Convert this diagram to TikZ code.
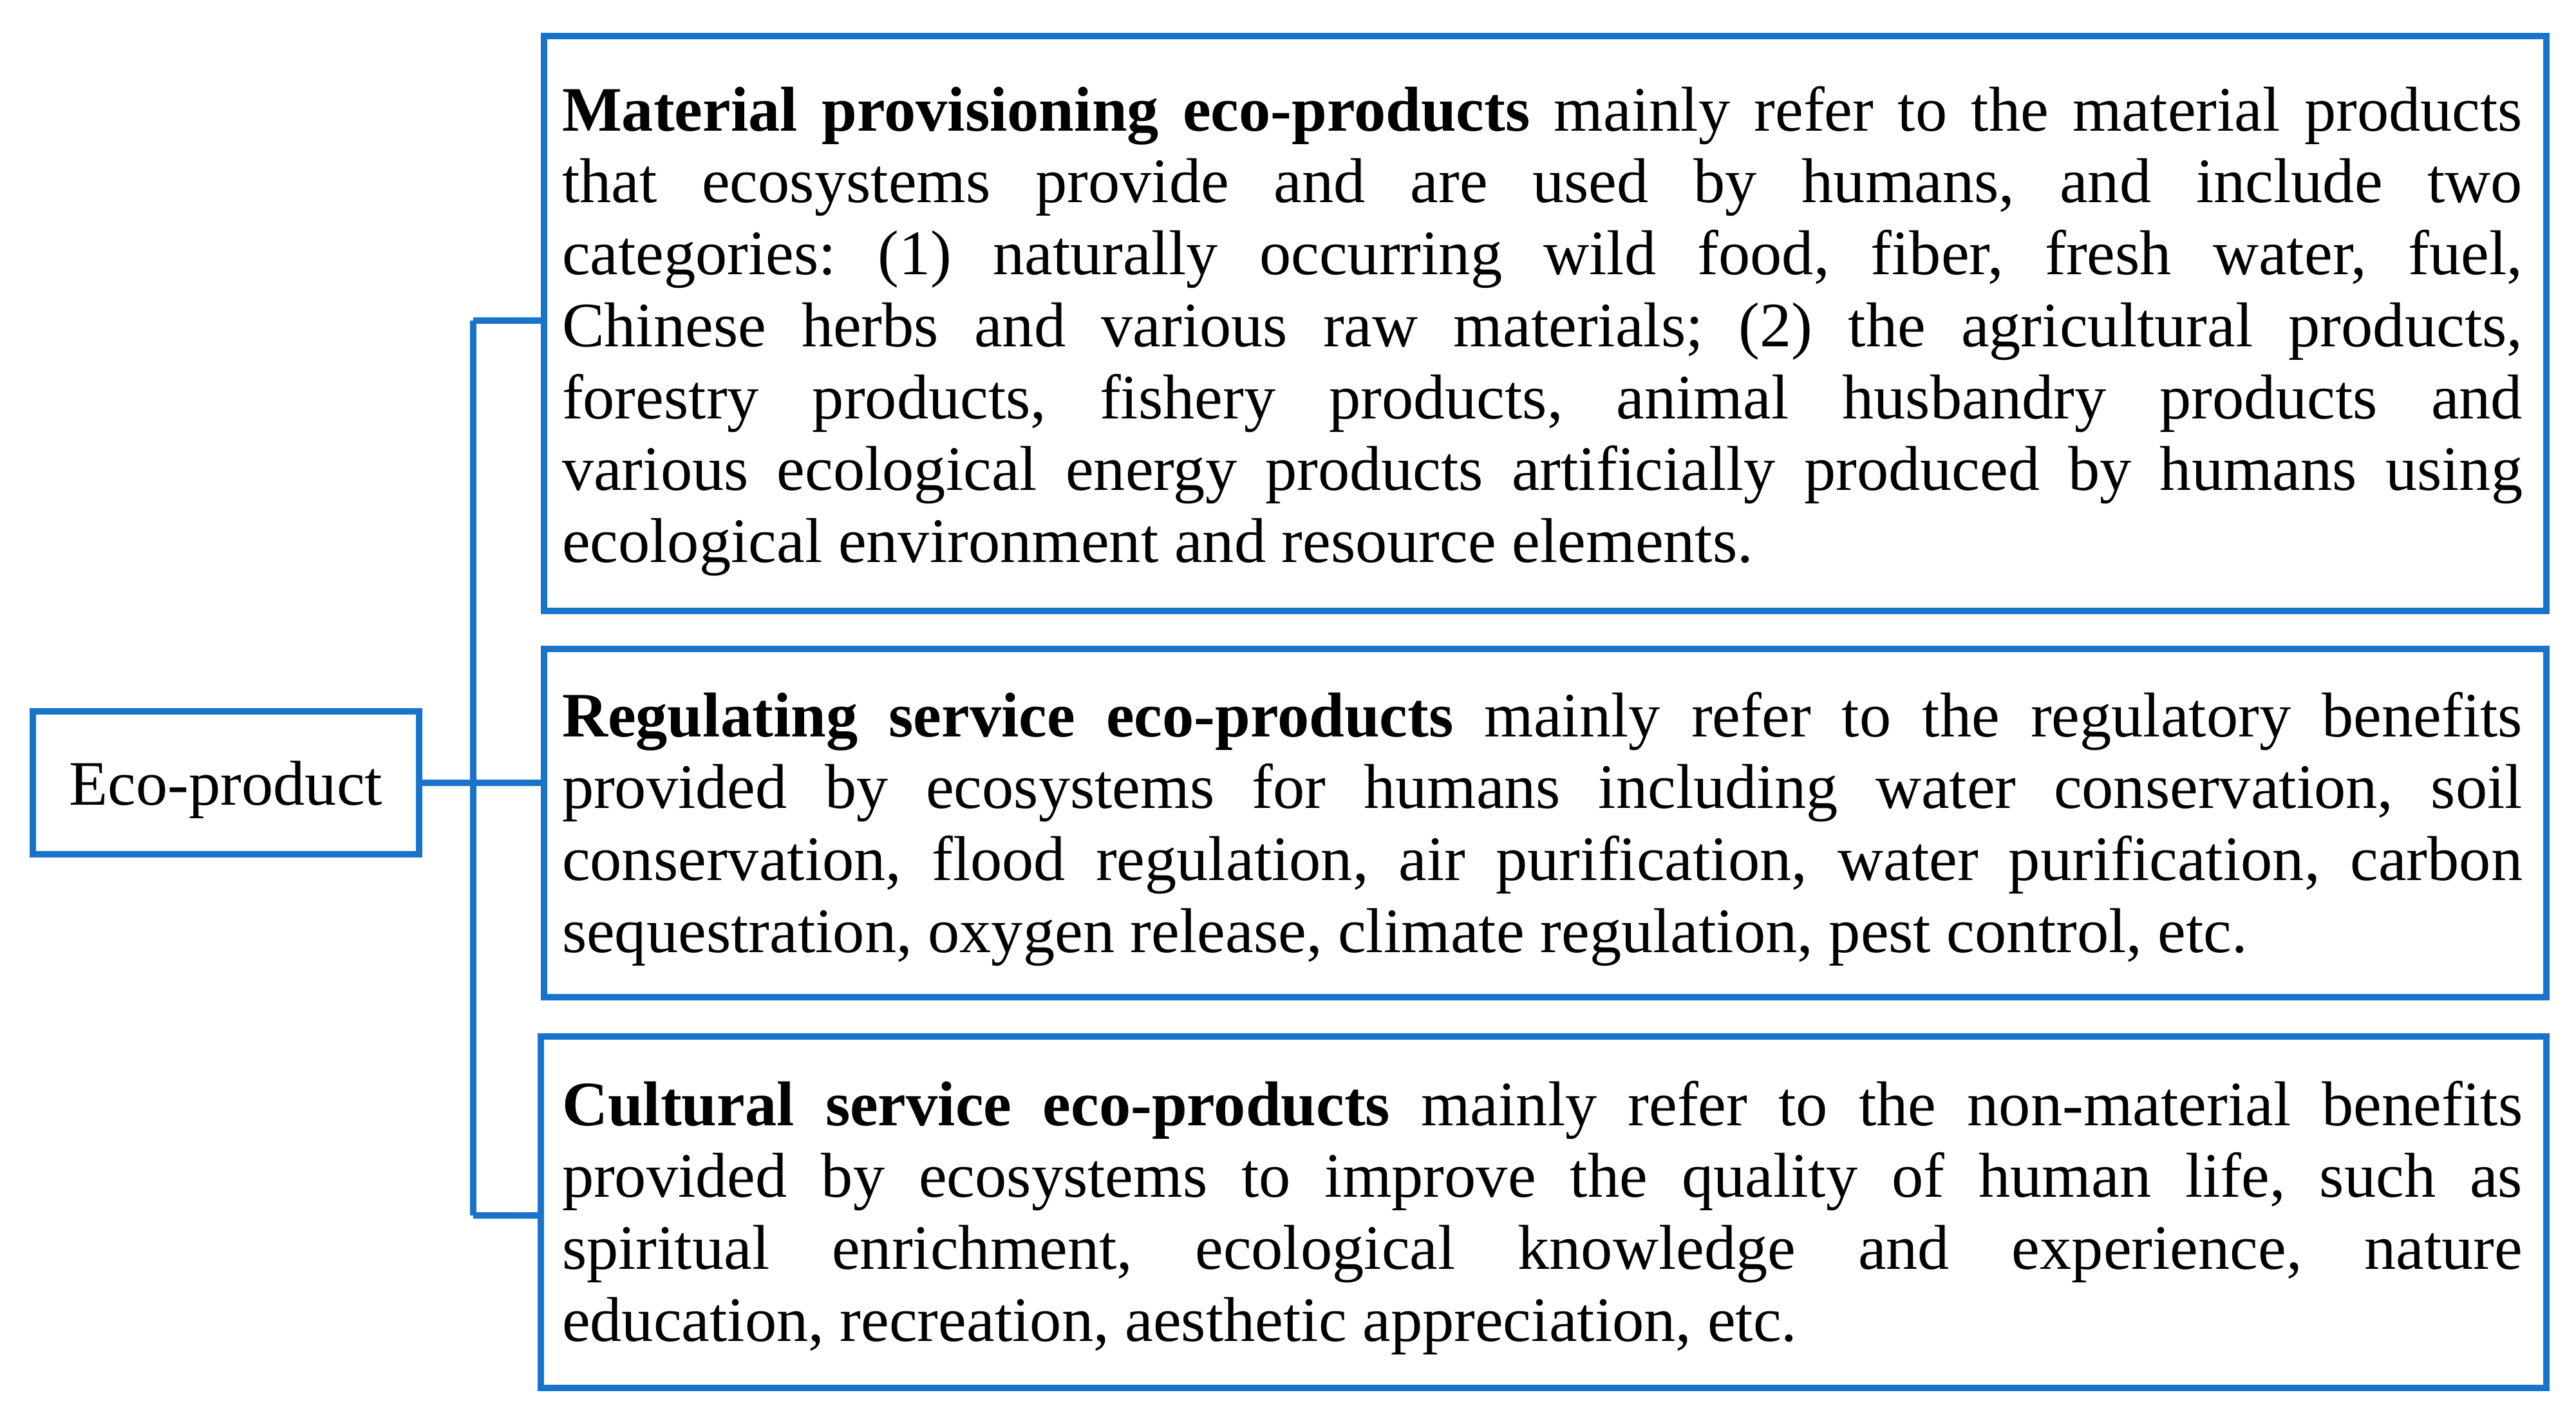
\documentclass[tikz,border=0pt]{standalone}
\usepackage{fontspec}
\setmainfont{Liberation Serif}
\frenchspacing
\definecolor{mdpiblue}{RGB}{24,116,202}
\tikzset{
  frame/.style={draw=mdpiblue, line width=0.1cm, outer sep=0pt, inner sep=0pt, anchor=north west},
  conn/.style={draw=mdpiblue, line width=0.1cm},
  para/.style={anchor=base west, inner sep=0pt, outer sep=0pt, text width=30.45cm, align=justify,
    font=\fontsize{28}{31.8}\selectfont},
}
\begin{document}
\begin{tikzpicture}
\useasboundingbox (0,0) rectangle (40.01,-22.11);
% boxes
\node[frame, minimum width=6.00cm, minimum height=2.22cm] (eco) at (0.51,-11.05) {};
\node[frame, minimum width=31.10cm, minimum height=8.93cm] (b1) at (8.45,-0.56) {};
\node[frame, minimum width=31.10cm, minimum height=5.41cm] (b2) at (8.45,-10.08) {};
\node[frame, minimum width=31.15cm, minimum height=5.46cm] (b3) at (8.40,-16.10) {};
% texts
\node[anchor=base, inner sep=0pt, font=\fontsize{28}{31.8}\selectfont] (ecot) at (eco.center |- 0,-12.50) {Eco-product};
\node[para] (t1) at (8.73,-2.03) {\textbf{Material provisioning eco-products} mainly refer to the material products\linebreak
that ecosystems provide and are used by humans, and include two\linebreak
categories: (1) naturally occurring wild food, fiber, fresh water, fuel,\linebreak
Chinese herbs and various raw materials; (2) the agricultural products,\linebreak
forestry products, fishery products, animal husbandry products and\linebreak
various ecological energy products artificially produced by humans using\linebreak
ecological environment and resource elements.};
\node[para] (t2) at (8.73,-11.44) {\textbf{Regulating service eco-products} mainly refer to the regulatory benefits\linebreak
provided by ecosystems for humans including water conservation, soil\linebreak
conservation, flood regulation, air purification, water purification, carbon\linebreak
sequestration, oxygen release, climate regulation, pest control, etc.};
\node[para] (t3) at (8.73,-17.48) {\textbf{Cultural service eco-products} mainly refer to the non-material benefits\linebreak
provided by ecosystems to improve the quality of human life, such as\linebreak
spiritual enrichment, ecological knowledge and experience, nature\linebreak
education, recreation, aesthetic appreciation, etc.};
% connectors
\coordinate (sTop) at (7.35,-4.98);
\coordinate (sBot) at (7.35,-18.88);
\draw[conn] (sTop) -- (sBot);
\draw[conn] (sTop) -- (sTop -| b1.west);
\draw[conn] (sBot) -- (sBot -| b3.west);
\draw[conn] (eco.east) -- (eco.east -| b2.west);
\end{tikzpicture}
\end{document}
